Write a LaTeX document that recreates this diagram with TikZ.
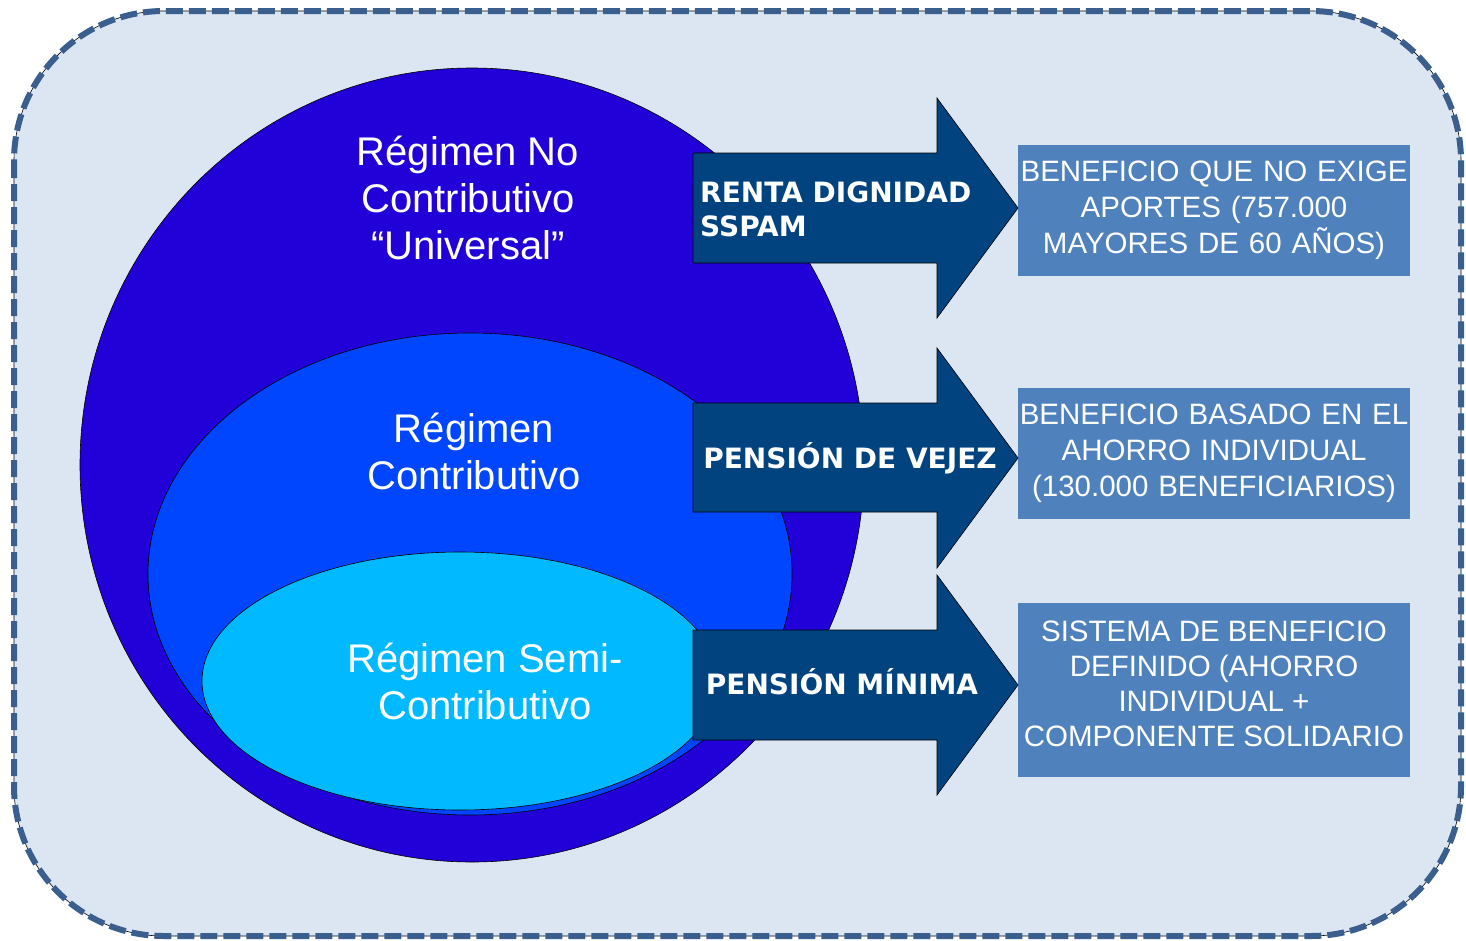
\documentclass[tikz,border=0pt]{standalone}
\usepackage{fontspec}
\setmainfont{Liberation Sans}
\newfontfamily\arrowfont{DejaVu Sans}
\usetikzlibrary{positioning}
\definecolor{panelfill}{HTML}{DCE6F2}
\definecolor{paneledge}{HTML}{3A5F8E}
\definecolor{outerblue}{HTML}{2200D8}
\definecolor{midblue}{HTML}{0046FF}
\definecolor{innerblue}{HTML}{00B9FF}
\definecolor{arrowblue}{HTML}{00437F}
\definecolor{boxblue}{HTML}{4F81BD}

\begin{document}
\begin{tikzpicture}[x=1pt,y=-1pt,
  regime/.style={text=white,align=center,inner sep=0pt,font=\fontsize{40}{47}\selectfont},
  blocktext/.style={text=white,inner sep=0pt,font=\arrowfont\bfseries\fontsize{28}{34}\selectfont},
  infobox/.style={fill=boxblue,text=white,align=center,inner sep=0pt,minimum width=392pt,text width=392pt,font=\fontsize{29.5}{36}\selectfont},
  bigarrow/.style={fill=arrowblue,draw=black,line width=0.6pt}]
\useasboundingbox (0,0) rectangle (1466,940);
\draw [black, line width=0.6pt, fill=panelfill, rounded corners=150pt] (14,11) rectangle (1461,936);
\draw [paneledge, line width=6pt, dash pattern=on 17pt off 6pt, rounded corners=150pt] (14,11) rectangle (1461,936);
\draw [black, line width=0.6pt, fill=outerblue] (472,465) ellipse [x radius=392pt, y radius=397pt];
\draw [black, line width=0.6pt, fill=midblue] (470,574) ellipse [x radius=322pt, y radius=241pt];
\draw [black, line width=0.6pt, fill=innerblue] (460,681) ellipse [x radius=258pt, y radius=129pt];
\node [regime] (noncontrib) at (468,198) {Régimen No\\Contributivo\\“Universal”};
\node [regime] (contrib) at (474,451) {Régimen\\Contributivo};
\node [regime] (semicontrib) at (485,681) {Régimen Semi-\\Contributivo};
\node [infobox, minimum height=131pt] (aportes) at (1214,210) {BENEFICIO QUE NO EXIGE\\APORTES (757.000\\MAYORES DE 60 AÑOS)};
\node [infobox, minimum height=131pt] (ahorro) at (1214,453) {BENEFICIO BASADO EN EL\\AHORRO INDIVIDUAL\\(130.000 BENEFICIARIOS)};
\node [infobox, minimum height=174pt] (definido) at (1214,690) {};
\node [text=white, align=center, inner sep=0pt, font=\fontsize{29.5}{35}\selectfont] (definidotext) at (1214,684) {SISTEMA DE BENEFICIO\\DEFINIDO (AHORRO\\INDIVIDUAL +\\COMPONENTE SOLIDARIO};
\filldraw [bigarrow] (693,153) -- (937,153) -- (937,98) -- (1018,208) -- (937,318) -- (937,263) -- (693,263) -- cycle;
\filldraw [bigarrow] (693,403) -- (937,403) -- (937,348) -- (1018,458) -- (937,568) -- (937,512) -- (693,512) -- cycle;
\filldraw [bigarrow] (693,630) -- (937,630) -- (937,575) -- (1018,685) -- (937,795) -- (937,740) -- (693,740) -- cycle;
\node [blocktext, anchor=west, align=left] (renta) at (700,209) {RENTA DIGNIDAD\\SSPAM};
\node [blocktext] (vejez) at (850,458) {PENSIÓN DE VEJEZ};
\node [blocktext] (minima) at (842,682) {PENSIÓN MÍNIMA};
\end{tikzpicture}
\end{document}
